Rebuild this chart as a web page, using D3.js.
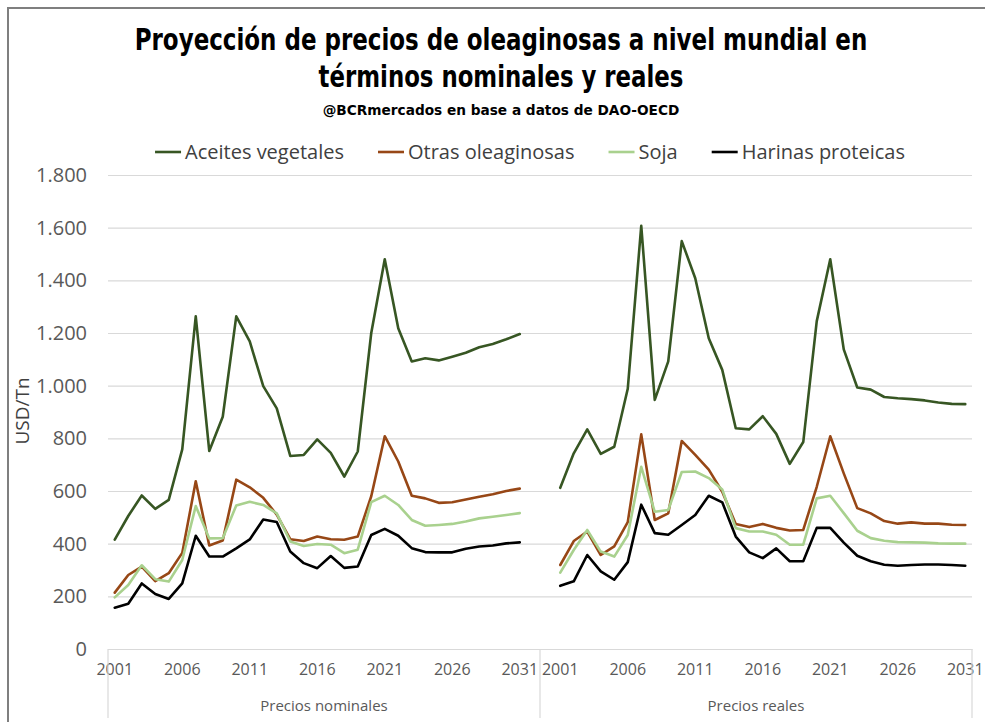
<!DOCTYPE html>
<html lang="es">
<head>
<meta charset="UTF-8">
<title>Proyección de precios de oleaginosas</title>
<script src="https://cdn.jsdelivr.net/npm/d3@7"></script>
<style>
  html, body { margin: 0; padding: 0; background: #fff; }
  svg { display: block; font-family: 'Open Sans', sans-serif; }
  .title { font-family: 'Liberation Sans Narrow', 'DejaVu Sans Condensed', sans-serif; font-weight: bold; fill: #000; }
</style>
</head>
<body>
<div id="chart"></div>
<script>
// categories
const years = [2001, 2002, 2003, 2004, 2005, 2006, 2007, 2008, 2009, 2010, 2011, 2012, 2013, 2014, 2015, 2016,
               2017, 2018, 2019, 2020, 2021, 2022, 2023, 2024, 2025, 2026, 2027, 2028, 2029, 2030, 2031];
const labelYears = [2001, 2006, 2011, 2016, 2021, 2026, 2031];
const panels = ["Precios nominales", "Precios reales"];
const seriesNames = ["Aceites vegetales", "Otras oleaginosas", "Soja", "Harinas proteicas"];
const seriesColors = ["#375623", "#974716", "#a9d18e", "#000000"];
const yTicks = [0, 200, 400, 600, 800, 1000, 1200, 1400, 1600, 1800];

// USD/Tn, nominal prices
const aceitesNominal = [415, 505, 583, 532, 566, 758, 1263, 752, 882, 1263, 1168, 998, 914, 733, 737, 796,
                        745, 655, 750, 1200, 1480, 1218, 1092, 1104, 1096, 1110, 1125, 1146, 1158, 1176, 1196];
const otrasNominal = [214, 281, 313, 258, 288, 365, 637, 393, 412, 643, 614, 574, 510, 417, 410, 427,
                      417, 415, 427, 580, 808, 712, 582, 572, 555, 557, 568, 578, 588, 600, 609];
const sojaNominal = [196, 243, 318, 265, 256, 338, 543, 420, 421, 545, 559, 547, 515, 408, 391, 399,
                     396, 364, 377, 558, 582, 547, 490, 468, 471, 475, 484, 496, 502, 509, 516];
const harinasNominal = [157, 172, 249, 209, 190, 249, 430, 351, 351, 382, 416, 492, 482, 370, 326, 307,
                        353, 308, 313, 433, 456, 430, 383, 368, 367, 367, 381, 389, 393, 401, 405];

// USD/Tn, real prices
const aceitesReal = [612, 743, 834, 741, 768, 988, 1607, 946, 1092, 1549, 1408, 1180, 1060, 838, 834, 884,
                     817, 703, 786, 1245, 1480, 1138, 993, 985, 957, 952, 949, 944, 936, 931, 930];
const otrasReal = [319, 410, 446, 357, 390, 482, 815, 490, 515, 790, 737, 681, 597, 475, 463, 475,
                   460, 450, 452, 616, 808, 667, 535, 515, 486, 476, 481, 476, 476, 472, 471];
const sojaReal = [290, 376, 452, 370, 351, 433, 692, 521, 528, 672, 674, 649, 606, 459, 446, 446,
                  434, 396, 396, 572, 582, 516, 449, 421, 411, 406, 405, 404, 401, 400, 400];
const harinasReal = [240, 257, 357, 295, 263, 330, 548, 440, 434, 471, 509, 582, 557, 427, 367, 345,
                     382, 333, 333, 460, 460, 404, 354, 333, 320, 316, 319, 321, 321, 319, 316];

const panelData = [
  [aceitesNominal, otrasNominal, sojaNominal, harinasNominal],
  [aceitesReal, otrasReal, sojaReal, harinasReal]
];

const W = 985, H = 722;
const plot = {left: 108, right: 972, top: 175, bottom: 649};

const svg = d3.select("#chart").append("svg")
  .attr("width", W).attr("height", H);

// outer frame
svg.append("path")
  .attr("d", `M8,${H} V8 H${W}`)
  .attr("fill", "none")
  .attr("stroke", "#7f7f7f")
  .attr("stroke-width", 2);

// titles (narrowed horizontally to the reference widths)
const titleLines = [
  {text: "Proyección de precios de oleaginosas a nivel mundial en", y: 50, size: 31, len: 733},
  {text: "términos nominales y reales", y: 87, size: 31, len: 365},
  {text: "@BCRmercados en base a datos de DAO-OECD", y: 115, size: 14.5, len: 357}
];
svg.selectAll("text.title").data(titleLines).enter()
  .append("text")
  .attr("class", "title")
  .attr("text-anchor", "middle")
  .attr("font-size", d => d.size)
  .text(d => d.text)
  .each(function (d) {
    const w = this.getComputedTextLength();
    d3.select(this).attr("transform", `translate(501,${d.y}) scale(${d.len / w},1)`);
  });

// x: two groups of 32 slots (one empty slot between the panels)
const keys = [];
years.forEach(yr => keys.push("0-" + yr));
keys.push("0-gap");
keys.push("1-gap");
years.forEach(yr => keys.push("1-" + yr));

const x = d3.scaleBand().domain(keys).range([plot.left, plot.right]).padding(0);
const bw = x.bandwidth();
const y = d3.scaleLinear().domain([0, 1800]).range([plot.bottom, plot.top]);

const es = d3.formatLocale({decimal: ",", thousands: ".", grouping: [3], currency: ["$", ""]});
const fmt = es.format(",.0f");

// y axis + gridlines
const yAxis = svg.append("g")
  .attr("transform", `translate(${plot.left},0)`)
  .call(d3.axisLeft(y).tickValues(yTicks).tickFormat(fmt)
    .tickSize(-(plot.right - plot.left)).tickPadding(21));
yAxis.select(".domain").remove();
yAxis.selectAll(".tick line").attr("stroke", "#d9d9d9").attr("stroke-width", 1.2);
yAxis.selectAll(".tick text")
  .attr("fill", "#595959")
  .attr("font-size", 20)
  .attr("font-family", "'Open Sans', sans-serif");

// axis title
svg.append("text")
  .attr("transform", "translate(29,411) rotate(-90)")
  .attr("text-anchor", "middle")
  .attr("fill", "#404040")
  .attr("font-size", 19)
  .text("USD/Tn");

// x axis
const xAxis = svg.append("g")
  .attr("transform", `translate(0,${plot.bottom})`)
  .call(d3.axisBottom(x)
    .tickValues(panels.flatMap((p, i) => labelYears.map(yr => i + "-" + yr)))
    .tickFormat(k => k.split("-")[1])
    .tickSize(0).tickPadding(15));
xAxis.select(".domain").attr("stroke", "#d9d9d9").attr("stroke-width", 1.2);
xAxis.selectAll(".tick text")
  .attr("fill", "#595959")
  .attr("font-size", 16)
  .attr("font-family", "'Open Sans', sans-serif");

// group boundaries and labels
const bounds = [x("0-2001"), x("1-gap"), plot.right];
svg.selectAll("line.sep").data(bounds).enter()
  .append("line")
  .attr("class", "sep")
  .attr("x1", d => d).attr("x2", d => d)
  .attr("y1", plot.bottom).attr("y2", 718)
  .attr("stroke", "#d9d9d9").attr("stroke-width", 1.2);

svg.selectAll("text.group").data(panels).enter()
  .append("text")
  .attr("class", "group")
  .attr("x", (d, i) => (bounds[i] + bounds[i + 1]) / 2)
  .attr("y", 711)
  .attr("text-anchor", "middle")
  .attr("fill", "#595959")
  .attr("font-size", 15)
  .text(d => d);

// lines
const line = d3.line()
  .x(d => x(d.key) + bw / 2)
  .y(d => y(d.value));

panelData.forEach((series, p) => {
  series.forEach((vals, s) => {
    const pts = years.map((yr, i) => ({key: p + "-" + yr, value: vals[i]}));
    svg.append("path")
      .datum(pts)
      .attr("d", line)
      .attr("fill", "none")
      .attr("stroke", seriesColors[s])
      .attr("stroke-width", 2.6)
      .attr("stroke-linejoin", "round")
      .attr("stroke-linecap", "round");
  });
});

// legend
const legend = svg.append("g").attr("transform", "translate(0,152)");
const items = legend.selectAll("g").data(seriesNames).enter().append("g");
items.append("line")
  .attr("x1", 0).attr("x2", 26)
  .attr("stroke", (d, i) => seriesColors[i])
  .attr("stroke-width", 2.6);
items.append("text")
  .attr("x", 30)
  .attr("dy", "0.35em")
  .attr("fill", "#404040")
  .attr("font-size", 20)
  .text(d => d);
let widths = [];
items.each(function () { widths.push(30 + this.querySelector("text").getComputedTextLength()); });
const gap = 34;
const total = d3.sum(widths) + gap * (widths.length - 1);
let cx = 530 - total / 2;
items.attr("transform", (d, i) => {
  const t = `translate(${cx},0)`;
  cx += widths[i] + gap;
  return t;
});
</script>
</body>
</html>
